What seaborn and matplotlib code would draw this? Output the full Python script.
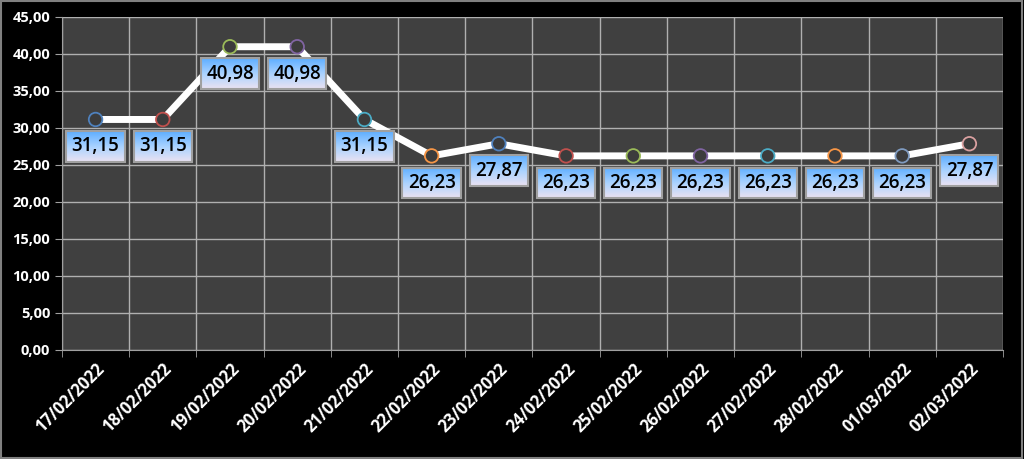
import matplotlib
matplotlib.use("Agg")
import matplotlib.pyplot as plt
from matplotlib.ticker import FixedLocator, MultipleLocator, FuncFormatter
from matplotlib.colors import LinearSegmentedColormap
import numpy as np
import seaborn as sns
import pandas as pd

# Datos
fechas = ['17/02/2022', '18/02/2022', '19/02/2022', '20/02/2022', '21/02/2022',
          '22/02/2022', '23/02/2022', '24/02/2022', '25/02/2022', '26/02/2022',
          '27/02/2022', '28/02/2022', '01/03/2022', '02/03/2022']
valores = [31.15, 31.15, 40.98, 40.98, 31.15, 26.23, 27.87, 26.23, 26.23, 26.23,
           26.23, 26.23, 26.23, 27.87]
colores_borde = ['#4F81BD', '#C0504D', '#9BBB59', '#8064A2', '#4BACC6', '#F79646',
                 '#4F81BD', '#C0504D', '#9BBB59', '#8064A2', '#4BACC6', '#F79646',
                 '#7F9BC0', '#D9A0A0']

df = pd.DataFrame({'fecha': fechas, 'valor': valores})
df['pos'] = range(len(df))

sns.set_style('dark')
plt.rcParams['font.family'] = ['Open Sans', 'DejaVu Sans']

fig = plt.figure(figsize=(10.24, 4.59), dpi=100, facecolor='black')
ax = fig.add_axes([0.0605, 0.2375, 0.919, 0.7255])
ax.set_facecolor('#404040')

sns.lineplot(data=df, x='pos', y='valor', color='white', linewidth=5, ax=ax,
             zorder=3, sort=False)
sns.scatterplot(data=df, x='pos', y='valor', color='#3c3c3c', s=95,
                edgecolor=colores_borde, linewidth=1.3, ax=ax, zorder=4)

# Etiquetas de datos
etiquetas = []
for i, v in enumerate(valores):
    t = ax.annotate(f'{v:.2f}'.replace('.', ','), (i, v), xytext=(0, -27),
                    textcoords='offset pixels',
                    ha='center', va='center', fontsize=13.5, color='black',
                    fontweight='semibold', zorder=6,
                    bbox=dict(boxstyle='square,pad=0.28', facecolor='none',
                              edgecolor='#a0a0a0', linewidth=1.5))
    etiquetas.append(t)

ax.set_xlim(-0.5, len(fechas) - 0.5)
ax.set_ylim(0, 45)
ax.yaxis.set_major_locator(MultipleLocator(5))
ax.yaxis.set_major_formatter(FuncFormatter(lambda y, p: f'{y:.2f}'.replace('.', ',')))
ax.set_xticks(range(len(fechas)))
ax.set_xticklabels(fechas, rotation=45, ha='right', rotation_mode='anchor')
ax.xaxis.set_minor_locator(FixedLocator([i + 0.5 for i in range(-1, len(fechas))]))

ax.grid(False)
ax.grid(axis='y', which='major', color='#b0b0b0', linewidth=1)
ax.grid(axis='x', which='minor', color='#b0b0b0', linewidth=1)
ax.tick_params(axis='x', which='major', length=0, colors='white', labelsize=12, pad=7)
ax.tick_params(axis='x', which='minor', length=5, color='#a0a0a0', bottom=True)
ax.tick_params(axis='y', length=5, color='#a0a0a0', colors='white', labelsize=10.5, left=True)
for lbl in ax.get_xticklabels() + ax.get_yticklabels():
    lbl.set_fontweight('bold')

for s in ax.spines.values():
    s.set_visible(False)
ax.spines['left'].set_visible(True)
ax.spines['left'].set_color('#a0a0a0')
ax.spines['bottom'].set_visible(True)
ax.spines['bottom'].set_color('#a0a0a0')
ax.set_xlabel('')
ax.set_ylabel('')

# Fondo degradado de las etiquetas
cmap = LinearSegmentedColormap.from_list('grad', ['#eae2f2', '#a9d2ff', '#5eaeff'])
grad = np.linspace(0, 1, 64).reshape(-1, 1)
fig.canvas.draw()
inv = ax.transData.inverted()
for t in etiquetas:
    bb = t.get_bbox_patch().get_window_extent()
    (x0, y0), (x1, y1) = inv.transform([(bb.x0, bb.y0), (bb.x1, bb.y1)])
    ax.imshow(grad, cmap=cmap, extent=(x0, x1, y0, y1), origin='lower',
              aspect='auto', zorder=5, interpolation='bilinear')
ax.set_xlim(-0.5, len(fechas) - 0.5)
ax.set_ylim(0, 45)

# Borde de la figura
fig.patches.append(plt.Rectangle((0.001, 0.002), 0.997, 0.995, transform=fig.transFigure,
                                 fill=False, edgecolor='#808080', linewidth=1.5))

fig.savefig('out.png', dpi=100, facecolor='black')
